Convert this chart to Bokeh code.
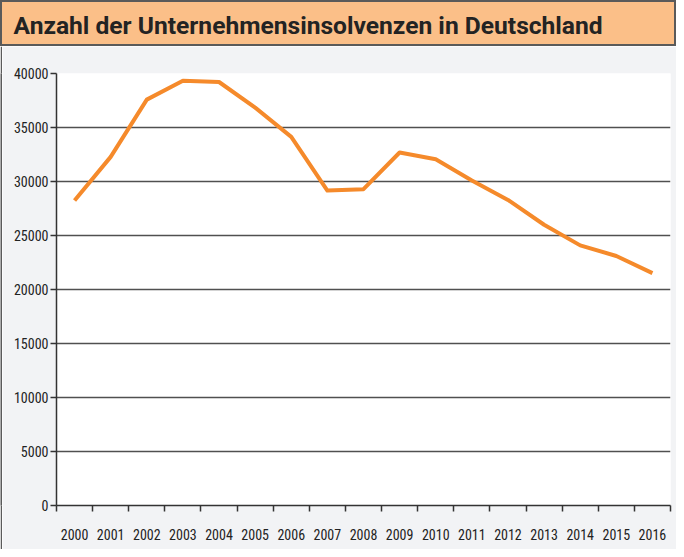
from bokeh.plotting import figure
from bokeh.layouts import column, row
from bokeh.models import Range1d, FixedTicker
from bokeh.core.properties import value
from bokeh.embed import file_html
from bokeh.resources import INLINE

title = "Anzahl der Unternehmensinsolvenzen in Deutschland"
years = ["2000", "2001", "2002", "2003", "2004", "2005", "2006", "2007", "2008",
         "2009", "2010", "2011", "2012", "2013", "2014", "2015", "2016"]
insolvencies = [28235, 32278, 37579, 39320, 39213, 36843, 34137, 29160, 29291,
                32687, 32060, 30099, 28297, 25995, 24085, 23101, 21518]
y_ticks = [0, 5000, 10000, 15000, 20000, 25000, 30000, 35000, 40000]

FONT = "Roboto Condensed"
TITLE_FONT = "Roboto"
BORDER = "#5a5a5a"
HEADER = "#fbbf88"
BG = "#f2f3f5"
ORANGE = "#f58a2b"
TOTAL_W = 676
HDR_H = 46
MAIN_H = 549 - HDR_H

# header bar
hdr = figure(width=TOTAL_W, height=HDR_H, x_range=Range1d(0, TOTAL_W), y_range=Range1d(0, HDR_H),
             toolbar_location=None, output_backend="svg", min_border=0)
hdr.axis.visible = False
hdr.grid.visible = False
hdr.background_fill_color = HEADER
hdr.border_fill_color = HEADER
hdr.outline_line_color = BORDER
hdr.outline_line_width = 3
hdr.text(x=[13], y=[21], text=[title], text_font=value(TITLE_FONT), text_font_style="bold",
         text_font_size="24.6px", text_color="#232323", text_baseline="middle", text_align="left")

# left border strip
strip = figure(width=2, height=MAIN_H, toolbar_location=None, output_backend="svg", min_border=0)
strip.axis.visible = False
strip.grid.visible = False
strip.background_fill_color = BORDER
strip.border_fill_color = BORDER
strip.outline_line_color = None

# main chart
n = len(years)
xs = [i + 0.5 for i in range(n)]
p = figure(width=TOTAL_W - 2, height=MAIN_H, x_range=Range1d(0, n), y_range=Range1d(0, 40000),
           toolbar_location=None, output_backend="svg",
           min_border_left=54, min_border_right=6, min_border_top=27, min_border_bottom=44)
p.background_fill_color = "white"
p.border_fill_color = BG
p.outline_line_color = None

p.line(xs, insolvencies, line_color=ORANGE, line_width=4, line_join="round")

p.xgrid.visible = False
p.ygrid.grid_line_color = "#505050"
p.ygrid.grid_line_width = 1.6
p.ygrid.ticker = FixedTicker(ticks=y_ticks)

p.yaxis.ticker = FixedTicker(ticks=y_ticks)
p.yaxis.major_label_overrides = {t: str(t) for t in y_ticks}
p.yaxis.major_tick_out = 6
p.yaxis.major_tick_in = 0
p.yaxis.minor_tick_out = 0
p.yaxis.minor_tick_in = 0
p.yaxis.major_label_standoff = 2

p.xaxis.ticker = FixedTicker(ticks=xs, minor_ticks=list(range(n + 1)))
p.xaxis.major_label_overrides = {x: y for x, y in zip(xs, years)}
p.xaxis.major_tick_out = 0
p.xaxis.major_tick_in = 0
p.xaxis.minor_tick_out = 6
p.xaxis.minor_tick_in = 0
p.xaxis.major_label_standoff = 17

for ax in (p.xaxis, p.yaxis):
    ax.axis_line_color = "#333333"
    ax.axis_line_width = 1.5
    ax.major_tick_line_color = "#333333"
    ax.minor_tick_line_color = "#333333"
    ax.major_tick_line_width = 1.5
    ax.minor_tick_line_width = 1.5
    ax.major_label_text_font = FONT
    ax.major_label_text_font_size = "14px"
    ax.major_label_text_color = "#222222"

layout = column(hdr, row(strip, p, spacing=0), spacing=0)

open("out.html", "w").write(file_html(layout, INLINE))
